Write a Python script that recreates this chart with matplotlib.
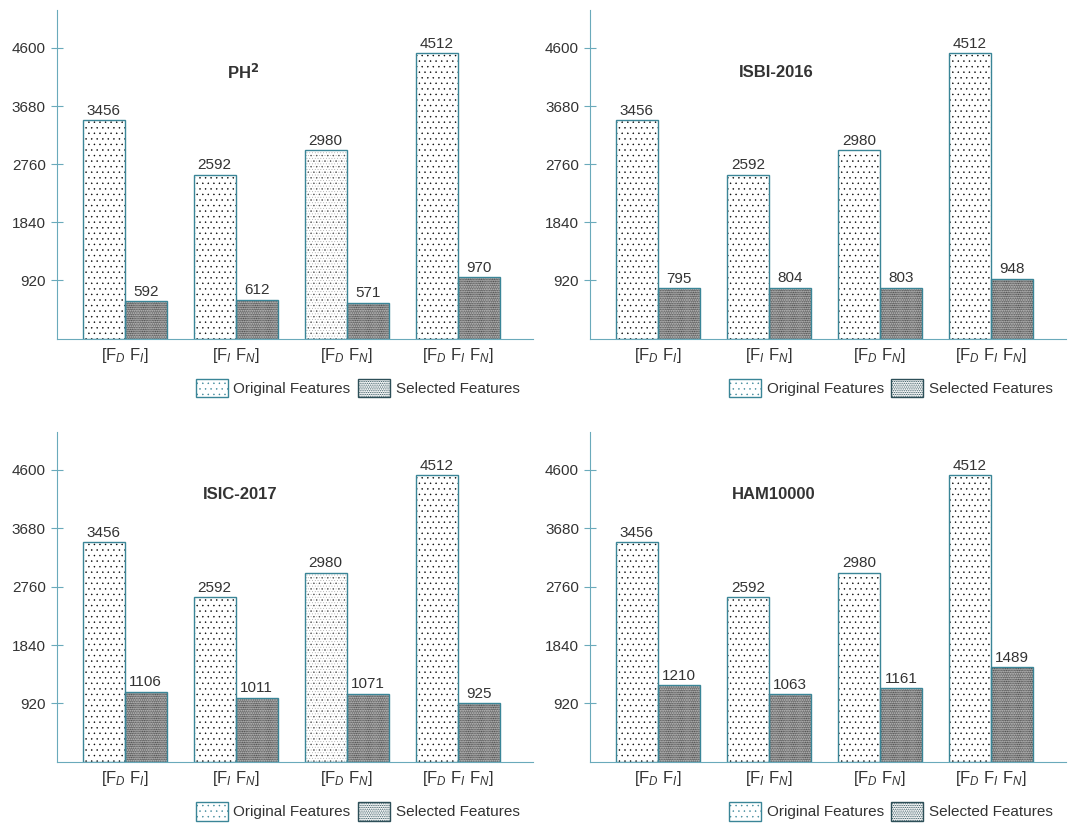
import matplotlib.pyplot as plt
from matplotlib.patches import Patch

plt.rcParams['font.family'] = ['Liberation Sans', 'DejaVu Sans']
plt.rcParams['mathtext.fontset'] = 'custom'
plt.rcParams['mathtext.rm'] = 'Liberation Sans'
plt.rcParams['mathtext.it'] = 'Liberation Sans:italic'
plt.rcParams['hatch.linewidth'] = 0.3

# data
categories = [r'[F$\mathit{_D}$ F$\mathit{_I}$]', r'[F$\mathit{_I}$ F$\mathit{_N}$]',
              r'[F$\mathit{_D}$ F$\mathit{_N}$]', r'[F$\mathit{_D}$ F$\mathit{_I}$ F$\mathit{_N}$]']
titles = ['PH$^\\mathbf{2}$', 'ISBI-2016', 'ISIC-2017', 'HAM10000']
original = [3456, 2592, 2980, 4512]
selected_ph2 = [592, 612, 571, 970]
selected_isbi = [795, 804, 803, 948]
selected_isic = [1106, 1011, 1071, 925]
selected_ham = [1210, 1063, 1161, 1489]
selected_all = [selected_ph2, selected_isbi, selected_isic, selected_ham]
yticks = [920, 1840, 2760, 3680, 4600]
# panels where the third original bar has the lighter, mixed dot fill
mixed_panels = [0, 2]

edge = '#3a8597'
spine = '#6aaabb'
txt = '#333333'
width = 0.38
h_orig = '...'
h_sel = '.........'


def hatch_lw(bars, lw):
    for b in bars:
        if hasattr(b, 'set_hatch_linewidth'):
            b.set_hatch_linewidth(lw)
        else:
            b._hatch_linewidth = lw


fig = plt.figure(figsize=(10.75, 8.3), dpi=100)
positions = [[0.053, 0.592, 0.443, 0.396], [0.549, 0.592, 0.443, 0.396],
             [0.053, 0.082, 0.443, 0.398], [0.549, 0.082, 0.443, 0.398]]
title_pos = [(0.39, 0.81), (0.39, 0.81), (0.385, 0.81), (0.385, 0.81)]

x = list(range(len(categories)))
for i in range(4):
    ax = fig.add_axes(positions[i])
    sel = selected_all[i]
    xo = [v - width / 2 for v in x]
    xs = [v + width / 2 for v in x]
    # hatched fill, then teal outline on top
    ax.bar(xo, original, width, color='white', edgecolor='black', hatch=h_orig, linewidth=0)
    if i in mixed_panels:
        ax.bar(xo[2], original[2], width, color='white', edgecolor='#aaaaaa',
               hatch='......', linewidth=0)
        ax.bar(xo[2], original[2], width, fill=False, edgecolor='#555555',
               hatch=h_orig, linewidth=0)
    sb = ax.bar(xs, sel, width, color='white', edgecolor='black', hatch=h_sel, linewidth=0)
    hatch_lw(sb, 0.9)
    ax.bar(xo, original, width, fill=False, edgecolor=edge, linewidth=1.0)
    ax.bar(xs, sel, width, fill=False, edgecolor=edge, linewidth=1.0)
    for a, b in zip(xo, original):
        ax.text(a, b + 40, str(b), ha='center', va='bottom', fontsize=11, color=txt)
    for a, b in zip(xs, sel):
        ax.text(a, b + 40, str(b), ha='center', va='bottom', fontsize=11, color=txt)

    ax.set_xlim(-0.61, 3.68)
    ax.set_ylim(0, 5200)
    ax.set_yticks(yticks)
    ax.set_xticks(x)
    ax.set_xticklabels(categories)
    ax.tick_params(axis='y', colors=spine, labelcolor=txt, labelsize=11, length=8,
                   direction='inout', pad=4)
    ax.tick_params(axis='x', length=0, labelcolor=txt, labelsize=12, pad=5)
    for s in ['top', 'right']:
        ax.spines[s].set_visible(False)
    ax.spines['left'].set_color(spine)
    ax.spines['bottom'].set_color(spine)
    ax.text(title_pos[i][0], title_pos[i][1], titles[i], transform=ax.transAxes,
            ha='center', va='center', fontsize=12, fontweight='bold', color=txt)

    handles = [Patch(facecolor='white', edgecolor=edge, hatch=h_orig, label='Original Features'),
               Patch(facecolor='white', edgecolor='#2d4f58', hatch=h_sel, label='Selected Features')]
    leg = ax.legend(handles=handles, ncol=2, loc='upper right', bbox_to_anchor=(1.0, -0.08),
                    frameon=False, fontsize=11, handlelength=2.1, handleheight=1.5,
                    handletextpad=0.35, columnspacing=0.5, labelcolor=txt)
    hatch_lw(leg.get_patches()[1:], 0.6)

fig.savefig('out.png', dpi=100)
